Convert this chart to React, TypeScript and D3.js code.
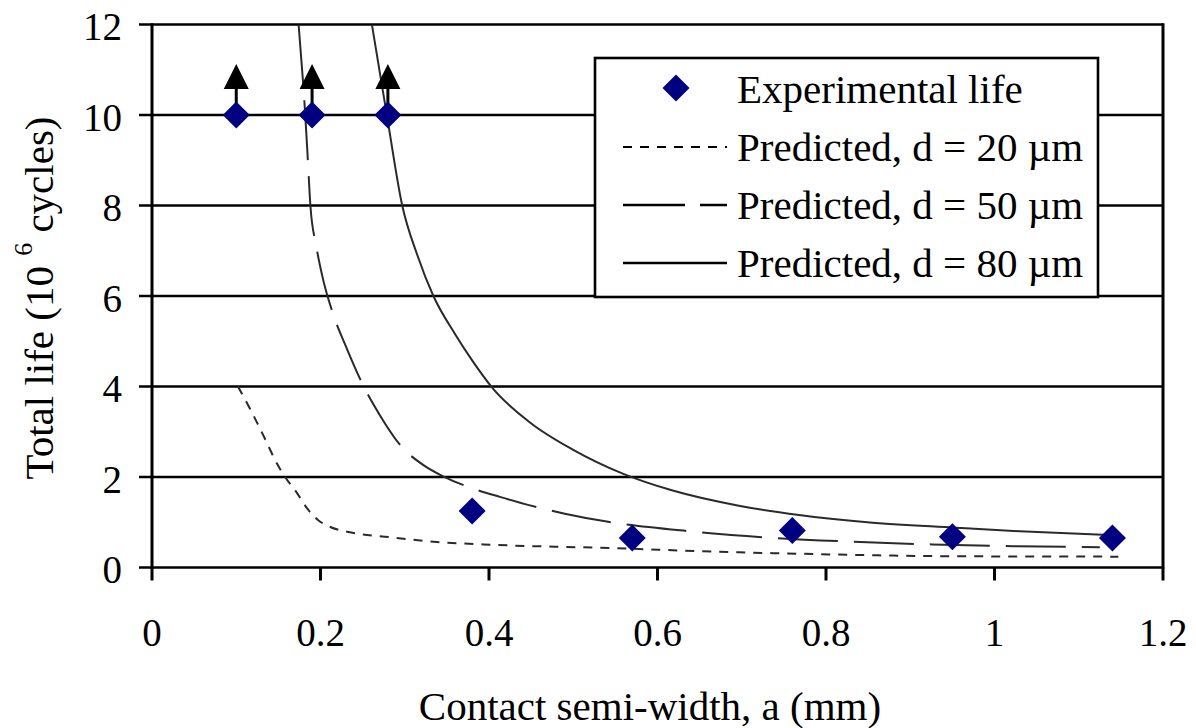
import React from 'react';
import * as d3 from 'd3';

// ---- data ----
const xTicks = [0, 0.2, 0.4, 0.6, 0.8, 1, 1.2];
const xTickLabels = ['0', '0.2', '0.4', '0.6', '0.8', '1', '1.2'];
const yTicks = [0, 2, 4, 6, 8, 10, 12];
const yTickLabels = ['0', '2', '4', '6', '8', '10', '12'];

const expX = [0.1, 0.19, 0.28, 0.38, 0.57, 0.76, 0.95, 1.14];
const expY = [10, 10, 10, 1.25, 0.65, 0.82, 0.68, 0.65];
const expRunout = [true, true, true, false, false, false, false, false];

const d20X = [0.102, 0.116, 0.125, 0.136, 0.146, 0.158, 0.172, 0.184, 0.197, 0.211, 0.235, 0.282, 0.334, 0.407, 0.544, 0.668, 0.804, 0.94, 1.147];
const d20Y = [4.0, 3.52, 3.19, 2.77, 2.38, 2.0, 1.65, 1.31, 1.05, 0.9, 0.78, 0.67, 0.57, 0.5, 0.43, 0.35, 0.29, 0.25, 0.24];

const d50X = [0.174, 0.182, 0.185, 0.188, 0.195, 0.202, 0.215, 0.231, 0.25, 0.271, 0.294, 0.324, 0.345, 0.38, 0.413, 0.445, 0.49, 0.538, 0.639, 0.733, 0.831, 0.926, 1.022, 1.125];
const d50Y = [12.0, 9.97, 9.0, 8.0, 7.1, 6.45, 5.6, 4.85, 4.05, 3.35, 2.72, 2.24, 2.02, 1.75, 1.56, 1.39, 1.19, 1.02, 0.8, 0.66, 0.57, 0.51, 0.47, 0.45];

const d80X = [0.261, 0.279, 0.297, 0.315, 0.334, 0.36, 0.381, 0.404, 0.449, 0.5, 0.558, 0.618, 0.698, 0.768, 0.849, 0.953, 1.03, 1.135];
const d80Y = [12.0, 9.97, 8.0, 6.9, 6.0, 5.15, 4.55, 3.97, 3.2, 2.6, 2.08, 1.7, 1.36, 1.16, 1.0, 0.88, 0.8, 0.72];

const legendLabels = ['Experimental life', 'Predicted, d = 20 µm', 'Predicted, d = 50 µm', 'Predicted, d = 80 µm'];
const xTitle = 'Contact semi-width, a (mm)';

const W = 1196;
const H = 728;
const FONT = '"Liberation Serif", "Times New Roman", serif';

export default function App() {
  const x = d3.scaleLinear().domain([0, 1.2]).range([152, 1163]);
  const y = d3.scaleLinear().domain([0, 12]).range([567.5, 24.5]);

  const line = d3
    .line<[number, number]>()
    .x((d) => x(d[0]))
    .y((d) => y(d[1]))
    .curve(d3.curveMonotoneX);

  const zip = (a: number[], b: number[]) => a.map((v, i) => [v, b[i]] as [number, number]);

  const curves = [
    { d: line(zip(d20X, d20Y)) || '', dash: '9,8' },
    { d: line(zip(d50X, d50Y)) || '', dash: '60,16' },
    { d: line(zip(d80X, d80Y)) || '', dash: undefined as string | undefined },
  ];

  const diamond = (cx: number, cy: number, r: number) =>
    `M${cx},${cy - r}L${cx + r},${cy}L${cx},${cy + r}L${cx - r},${cy}Z`;

  const [x0, x1] = x.range();
  const yTop = y(12);
  const yBot = y(0);

  // legend geometry
  const lgX = 595, lgY = 58, lgW = 503, lgH = 239;
  const rowBase = [103, 161, 219, 277];

  return (
    <svg width={W} height={H} style={{ position: 'absolute', left: 0, top: 0, background: '#fff' }}>
      <defs>
        <clipPath id="plotClip">
          <rect x={x0} y={yTop} width={x1 - x0} height={yBot - yTop} />
        </clipPath>
      </defs>
      <rect x={0} y={0} width={W} height={H} fill="#fff" />

      {/* gridlines with outward left ticks */}
      {yTicks.map((t) => (
        <line key={'g' + t} x1={x0 - 13} x2={x1} y1={y(t)} y2={y(t)} stroke="#000" strokeWidth={2.6} />
      ))}
      {/* y axis */}
      <line x1={x0} x2={x0} y1={yTop - 1.3} y2={yBot + 1.3} stroke="#000" strokeWidth={3} />
      {/* right border */}
      <line x1={x1} x2={x1} y1={yTop - 1.3} y2={yBot + 1.3} stroke="#000" strokeWidth={3} />
      {/* x ticks */}
      {xTicks.map((t) => (
        <line key={'xt' + t} x1={x(t)} x2={x(t)} y1={yBot} y2={yBot + 13} stroke="#000" strokeWidth={3} />
      ))}

      {/* y tick labels */}
      {yTicks.map((t, i) => (
        <text key={'yl' + t} x={122} y={y(t) + 15.5} textAnchor="end" fontFamily={FONT} fontSize={39} fill="#000">
          {yTickLabels[i]}
        </text>
      ))}
      {/* x tick labels */}
      {xTicks.map((t, i) => (
        <text key={'xl' + t} x={x(t)} y={646} textAnchor="middle" fontFamily={FONT} fontSize={39} fill="#000">
          {xTickLabels[i]}
        </text>
      ))}

      {/* axis titles */}
      <text x={650} y={720} textAnchor="middle" fontFamily={FONT} fontSize={41} fill="#000">
        {xTitle}
      </text>
      <text transform="translate(53,298) rotate(-90)" textAnchor="middle" fontFamily={FONT} fontSize={41} fill="#000">
        <tspan>Total life (10 </tspan>
        <tspan fontSize={26} dy={-21}>6</tspan>
        <tspan dy={21}> cycles)</tspan>
      </text>

      {/* predicted curves */}
      <g clipPath="url(#plotClip)">
        {curves.map((c, i) => (
          <path key={'c' + i} d={c.d} fill="none" stroke="#2a2a2a" strokeWidth={2} strokeDasharray={c.dash} />
        ))}
      </g>

      {/* run-out arrows */}
      {expX.map((v, i) =>
        expRunout[i] ? (
          <g key={'a' + i}>
            <line x1={x(v)} x2={x(v)} y1={y(expY[i])} y2={y(expY[i]) - 28} stroke="#000" strokeWidth={3} />
            <path
              d={`M${x(v)},${y(expY[i]) - 51}L${x(v) + 12.5},${y(expY[i]) - 26}L${x(v) - 12.5},${y(expY[i]) - 26}Z`}
              fill="#000"
            />
          </g>
        ) : null
      )}

      {/* experimental points */}
      {expX.map((v, i) => (
        <path key={'p' + i} d={diamond(x(v), y(expY[i]), 13.5)} fill="#000080" />
      ))}

      {/* legend */}
      <rect x={lgX} y={lgY} width={lgW} height={lgH} fill="#fff" stroke="#000" strokeWidth={2.6} />
      <path d={diamond(676, 88, 13.5)} fill="#000080" />
      <line x1={623} x2={727} y1={147} y2={147} stroke="#000" strokeWidth={2} strokeDasharray="9,8" />
      <line x1={623} x2={727} y1={205} y2={205} stroke="#000" strokeWidth={2.4} strokeDasharray="62,15" />
      <line x1={623} x2={727} y1={263} y2={263} stroke="#000" strokeWidth={2.4} />
      {legendLabels.map((l, i) => (
        <text key={'lg' + i} x={737} y={rowBase[i]} fontFamily={FONT} fontSize={41} fill="#000">
          {l}
        </text>
      ))}
    </svg>
  );
}
